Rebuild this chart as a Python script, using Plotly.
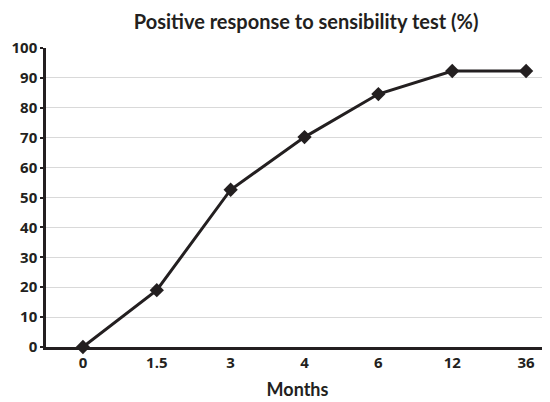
import plotly.graph_objects as go

months = ["0", "1.5", "3", "4", "6", "12", "36"]
positive_pct = [0, 19, 52.6, 70.2, 84.6, 92.3, 92.3]
y_ticks = [0, 10, 20, 30, 40, 50, 60, 70, 80, 90, 100]

dark = "#231f20"
font_family = "Lato, 'Open Sans', sans-serif"
tick_family = "'Open Sans', Lato, sans-serif"

fig = go.Figure()
fig.add_trace(go.Scatter(
    x=months, y=positive_pct, mode="lines+markers",
    line=dict(color=dark, width=3),
    marker=dict(symbol="diamond", size=11, color=dark),
    cliponaxis=False, showlegend=False,
))

fig.update_layout(
    width=542, height=394,
    margin=dict(l=38, r=1, t=40, b=55),
    paper_bgcolor="white", plot_bgcolor="white",
    font=dict(family=font_family, color=dark, size=14, weight="bold"),
    title=dict(text="Positive response to sensibility test (%)",
               x=0.55, xanchor="center", y=1 - 14 / 394, yanchor="middle",
               font=dict(size=20, color=dark, family=font_family, weight="bold")),
    xaxis=dict(
        type="category", range=[-0.5, 6.31],
        showline=True, linecolor=dark, linewidth=2.5,
        showgrid=False, ticks="", zeroline=False, automargin=False,
        tickfont=dict(size=15, color=dark, family=tick_family, weight="bold"),
        title=dict(text="Months", font=dict(size=18, color=dark, family=font_family, weight="bold"),
                   standoff=13),
    ),
    yaxis=dict(
        range=[0, 100], tickvals=y_ticks, automargin=False,
        showline=True, linecolor=dark, linewidth=2.5,
        showgrid=True, gridcolor="#d9d9d9", gridwidth=1,
        ticks="outside", ticklen=3, tickcolor=dark, tickwidth=2,
        zeroline=False,
        tickfont=dict(size=15, color=dark, family=tick_family, weight="bold"),
    ),
)

fig.write_html("out.html")
